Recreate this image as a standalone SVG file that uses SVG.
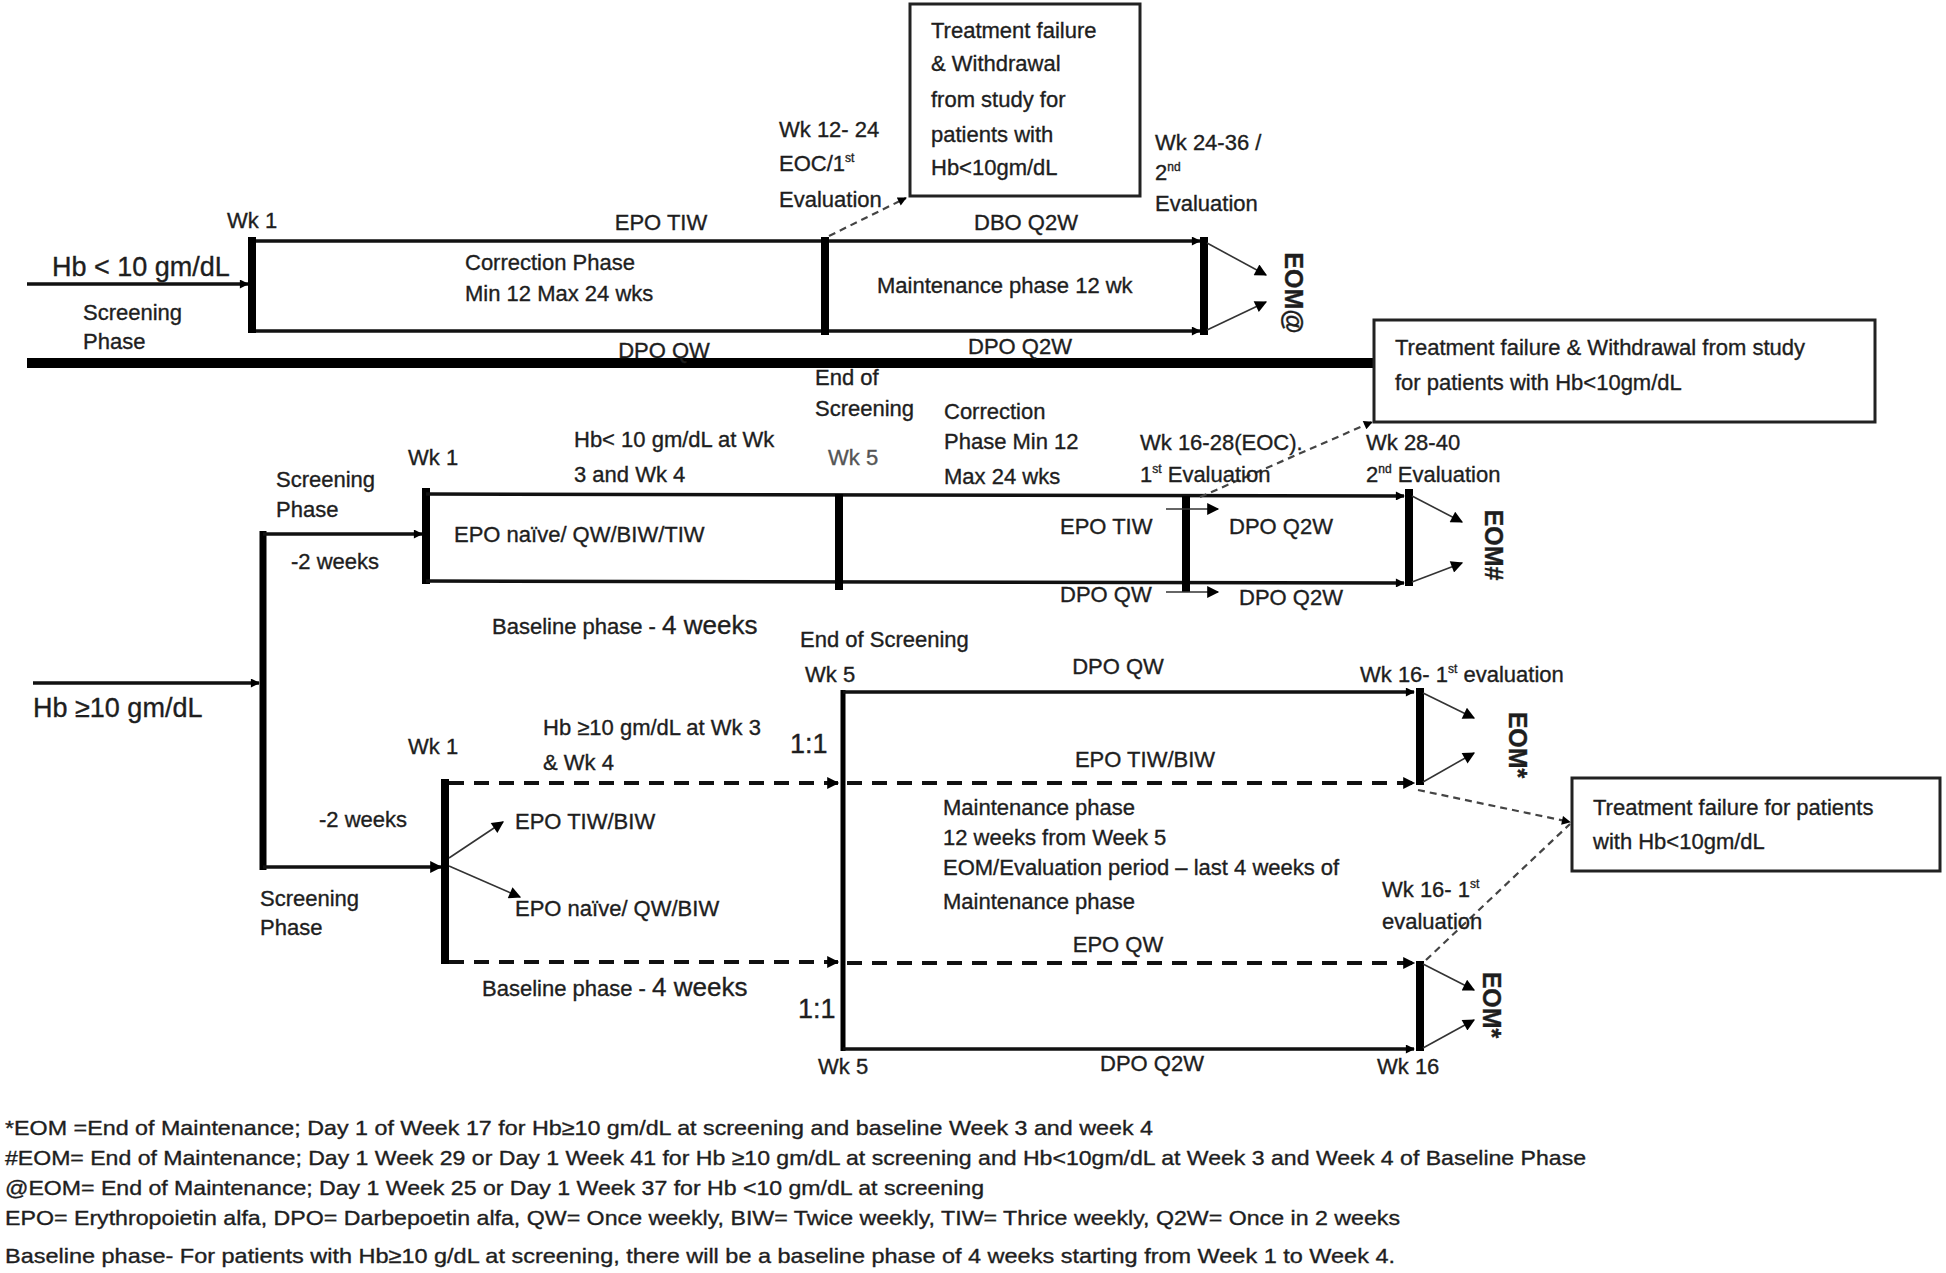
<svg xmlns="http://www.w3.org/2000/svg" width="1946" height="1273" viewBox="0 0 1946 1273">
<style>
.t{font-family:"Liberation Sans",Arial,sans-serif;font-size:22px;fill:#1e1e1e;stroke:#1e1e1e;stroke-width:0.35}
.f{font-size:21px}
.b{font-size:27px}
.m{text-anchor:middle}
.r{font-size:25px;font-weight:bold;text-anchor:middle;dominant-baseline:central}
.g{fill:#555;stroke:#555}
.ln{stroke:#111;stroke-width:3.5;fill:none}
.bar{stroke:#000;stroke-width:8;fill:none}
.dash{stroke:#111;stroke-width:4;stroke-dasharray:15 10;fill:none}
.dot{stroke:#444;stroke-width:2.2;stroke-dasharray:7 5;fill:none}
.thin{stroke:#333;stroke-width:1.6;fill:none}
.box{fill:#fff;stroke:#222;stroke-width:3}
</style>
<defs>
<marker id="ah" viewBox="0 0 10 10" refX="9" refY="5" markerWidth="15" markerHeight="12" markerUnits="userSpaceOnUse" orient="auto"><path d="M0,0 L10,5 L0,10 z" fill="#000"/></marker>
<marker id="as" viewBox="0 0 10 10" refX="9" refY="5" markerWidth="11" markerHeight="9" markerUnits="userSpaceOnUse" orient="auto"><path d="M0,0 L10,5 L0,10 z" fill="#000"/></marker>
</defs>
<rect width="1946" height="1273" fill="#fff"/>

<g id="connectors">
<line class="ln" x1="27" y1="284" x2="248" y2="284" marker-end="url(#as)"/>
<line class="ln" x1="252" y1="241" x2="1200" y2="241" marker-end="url(#as)"/>
<line class="ln" x1="252" y1="331" x2="1200" y2="331" marker-end="url(#as)"/>
<line class="bar" x1="252" y1="237" x2="252" y2="333"/>
<line class="bar" x1="825" y1="237" x2="825" y2="335"/>
<line class="bar" x1="1204" y1="237" x2="1204" y2="335"/>
<line class="thin" x1="1207" y1="243" x2="1266" y2="275" marker-end="url(#ah)"/>
<line class="thin" x1="1207" y1="330" x2="1266" y2="302" marker-end="url(#ah)"/>
<line class="dot" x1="829" y1="236" x2="906" y2="198" marker-end="url(#as)"/>
<line stroke="#000" stroke-width="10" x1="27" y1="363" x2="1374" y2="363"/>
<line class="ln" x1="33" y1="683" x2="259" y2="683" marker-end="url(#as)"/>
<line stroke="#000" stroke-width="7" x1="263" y1="531" x2="263" y2="870"/>
<line class="ln" x1="263" y1="534" x2="422" y2="534" marker-end="url(#as)"/>
<line class="bar" x1="426" y1="488" x2="426" y2="584"/>
<line class="ln" x1="426" y1="494" x2="1404" y2="496" marker-end="url(#as)"/>
<line class="ln" x1="426" y1="581" x2="1404" y2="583" marker-end="url(#as)"/>
<line class="bar" x1="839" y1="494" x2="839" y2="590"/>
<line class="bar" x1="1186" y1="496" x2="1186" y2="592"/>
<line class="bar" x1="1409" y1="489" x2="1409" y2="586"/>
<line class="thin" x1="1166" y1="509" x2="1218" y2="509" marker-end="url(#ah)"/>
<line class="thin" x1="1166" y1="592" x2="1218" y2="592" marker-end="url(#ah)"/>
<line class="thin" x1="1412" y1="496" x2="1462" y2="522" marker-end="url(#ah)"/>
<line class="thin" x1="1412" y1="582" x2="1462" y2="563" marker-end="url(#ah)"/>
<line class="dot" x1="1200" y1="497" x2="1372" y2="422" marker-end="url(#as)"/>
<line class="ln" x1="263" y1="867" x2="441" y2="867" marker-end="url(#ah)"/>
<line class="bar" x1="445" y1="779" x2="445" y2="964"/>
<line class="dash" x1="449" y1="783" x2="838" y2="783" marker-end="url(#ah)"/>
<line class="dash" x1="449" y1="962" x2="838" y2="962" marker-end="url(#ah)"/>
<line class="thin" x1="449" y1="858" x2="503" y2="822" marker-end="url(#ah)"/>
<line class="thin" x1="449" y1="866" x2="520" y2="897" marker-end="url(#ah)"/>
<line stroke="#000" stroke-width="5" x1="843" y1="690" x2="843" y2="1051"/>
<line class="ln" x1="843" y1="692" x2="1414" y2="692" marker-end="url(#as)"/>
<line class="dash" x1="847" y1="783" x2="1414" y2="783" marker-end="url(#ah)"/>
<line class="dash" x1="847" y1="963" x2="1414" y2="963" marker-end="url(#ah)"/>
<line class="ln" x1="843" y1="1049" x2="1414" y2="1049" marker-end="url(#as)"/>
<line class="bar" x1="1420" y1="688" x2="1420" y2="785"/>
<line class="bar" x1="1420" y1="961" x2="1420" y2="1051"/>
<line class="thin" x1="1423" y1="693" x2="1474" y2="718" marker-end="url(#ah)"/>
<line class="thin" x1="1423" y1="782" x2="1474" y2="753" marker-end="url(#ah)"/>
<line class="thin" x1="1423" y1="964" x2="1474" y2="990" marker-end="url(#ah)"/>
<line class="thin" x1="1423" y1="1048" x2="1474" y2="1020" marker-end="url(#ah)"/>
<line class="dot" x1="1418" y1="790" x2="1570" y2="822" marker-end="url(#as)"/>
<line class="dot" x1="1426" y1="960" x2="1570" y2="824"/>
</g>

<g id="box-withdraw-top">
<rect class="box" x="910" y="4" width="230" height="192"/>
<text class="t" x="931" y="38">Treatment failure</text>
<text class="t" x="931" y="71">&amp; Withdrawal</text>
<text class="t" x="931" y="107">from study for</text>
<text class="t" x="931" y="142">patients with</text>
<text class="t" x="931" y="175">Hb&lt;10gm/dL</text>
</g>
<g id="box-withdraw-mid">
<rect class="box" x="1374" y="320" width="501" height="102"/>
<text class="t" x="1395" y="355">Treatment failure &amp; Withdrawal from study</text>
<text class="t" x="1395" y="390">for patients with Hb&lt;10gm/dL</text>
</g>
<g id="box-failure-low">
<rect class="box" x="1572" y="778" width="368" height="93"/>
<text class="t" x="1593" y="815">Treatment failure for patients</text>
<text class="t" x="1593" y="849">with Hb&lt;10gm/dL</text>
</g>

<g id="top-labels">
<text class="t b" x="52" y="276">Hb &lt; 10 gm/dL</text>
<text class="t" x="83" y="320">Screening</text>
<text class="t" x="83" y="349">Phase</text>
<text class="t" x="227" y="228">Wk 1</text>
<text class="t m" x="661" y="230">EPO TIW</text>
<text class="t" x="465" y="270">Correction Phase</text>
<text class="t" x="465" y="301">Min 12 Max 24 wks</text>
<text class="t m" x="664" y="358">DPO QW</text>
<text class="t" x="779" y="137">Wk 12- 24</text>
<text class="t" x="779" y="171">EOC/1<tspan font-size="12" dy="-9">st</tspan></text>
<text class="t" x="779" y="207">Evaluation</text>
<text class="t m" x="1026" y="230">DBO Q2W</text>
<text class="t" x="877" y="293">Maintenance phase 12 wk</text>
<text class="t m" x="1020" y="354">DPO Q2W</text>
<text class="t" x="1155" y="150">Wk 24-36 /</text>
<text class="t" x="1155" y="180">2<tspan font-size="12" dy="-9">nd</tspan></text>
<text class="t" x="1155" y="211">Evaluation</text>
<text class="t r" transform="translate(1294,293) rotate(90)">EOM@</text>
</g>

<g id="mid-labels">
<text class="t b" x="33" y="717">Hb ≥10 gm/dL</text>
<text class="t" x="276" y="487">Screening</text>
<text class="t" x="276" y="517">Phase</text>
<text class="t" x="291" y="569">-2 weeks</text>
<text class="t" x="408" y="465">Wk 1</text>
<text class="t" x="574" y="447">Hb&lt; 10 gm/dL at Wk</text>
<text class="t" x="574" y="482">3 and Wk 4</text>
<text class="t" x="454" y="542">EPO naïve/ QW/BIW/TIW</text>
<text class="t" x="492" y="634">Baseline phase - <tspan font-size="26">4 weeks</tspan></text>
<text class="t" x="815" y="385">End of</text>
<text class="t" x="815" y="416">Screening</text>
<text class="t g" x="828" y="465">Wk 5</text>
<text class="t" x="944" y="419">Correction</text>
<text class="t" x="944" y="449">Phase Min 12</text>
<text class="t" x="944" y="484">Max 24 wks</text>
<text class="t" x="1140" y="450">Wk 16-28(EOC).</text>
<text class="t" x="1140" y="482">1<tspan font-size="12" dy="-9">st</tspan><tspan dy="9"> Evaluation</tspan></text>
<text class="t" x="1366" y="450">Wk 28-40</text>
<text class="t" x="1366" y="482">2<tspan font-size="12" dy="-9">nd</tspan><tspan dy="9"> Evaluation</tspan></text>
<text class="t" x="1060" y="534">EPO TIW</text>
<text class="t" x="1229" y="534">DPO Q2W</text>
<text class="t" x="1060" y="602">DPO QW</text>
<text class="t" x="1239" y="605">DPO Q2W</text>
<text class="t r" transform="translate(1494,545) rotate(90)">EOM#</text>
</g>

<g id="low-labels">
<text class="t" x="800" y="647">End of Screening</text>
<text class="t" x="805" y="682">Wk 5</text>
<text class="t m" x="1118" y="674">DPO QW</text>
<text class="t" x="1360" y="682">Wk 16- 1<tspan font-size="12" dy="-9">st</tspan><tspan dy="9"> evaluation</tspan></text>
<text class="t" x="408" y="754">Wk 1</text>
<text class="t" x="543" y="735">Hb ≥10 gm/dL at Wk 3</text>
<text class="t" x="543" y="770">&amp; Wk 4</text>
<text class="t b" x="790" y="753">1:1</text>
<text class="t m" x="1145" y="767">EPO TIW/BIW</text>
<text class="t" x="319" y="827">-2 weeks</text>
<text class="t" x="515" y="829">EPO TIW/BIW</text>
<text class="t" x="515" y="916">EPO naïve/ QW/BIW</text>
<text class="t" x="260" y="906">Screening</text>
<text class="t" x="260" y="935">Phase</text>
<text class="t" x="482" y="996">Baseline phase - <tspan font-size="26">4 weeks</tspan></text>
<text class="t" x="943" y="815">Maintenance phase</text>
<text class="t" x="943" y="845">12 weeks from Week 5</text>
<text class="t" x="943" y="875">EOM/Evaluation period – last 4 weeks of</text>
<text class="t" x="943" y="909">Maintenance phase</text>
<text class="t m" x="1118" y="952">EPO QW</text>
<text class="t" x="1382" y="897">Wk 16- 1<tspan font-size="12" dy="-9">st</tspan></text>
<text class="t" x="1382" y="929">evaluation</text>
<text class="t b" x="798" y="1018">1:1</text>
<text class="t" x="818" y="1074">Wk 5</text>
<text class="t m" x="1152" y="1071">DPO Q2W</text>
<text class="t" x="1377" y="1074">Wk 16</text>
<text class="t r" transform="translate(1518,745) rotate(90)">EOM*</text>
<text class="t r" transform="translate(1492,1005) rotate(90)">EOM*</text>
</g>

<g id="footnotes">
<text class="t f" x="5" y="1135" textLength="1148" lengthAdjust="spacingAndGlyphs">*EOM =End of Maintenance; Day 1 of Week 17 for Hb≥10 gm/dL at screening and baseline Week 3 and week 4</text>
<text class="t f" x="5" y="1165" textLength="1581" lengthAdjust="spacingAndGlyphs">#EOM= End of Maintenance; Day 1 Week 29 or Day 1 Week 41 for Hb ≥10 gm/dL at screening and Hb&lt;10gm/dL at Week 3 and Week 4 of Baseline Phase</text>
<text class="t f" x="5" y="1195" textLength="979" lengthAdjust="spacingAndGlyphs">@EOM= End of Maintenance; Day 1 Week 25 or Day 1 Week 37 for Hb &lt;10 gm/dL at screening</text>
<text class="t f" x="5" y="1225" textLength="1395" lengthAdjust="spacingAndGlyphs">EPO= Erythropoietin alfa, DPO= Darbepoetin alfa, QW= Once weekly, BIW= Twice weekly, TIW= Thrice weekly, Q2W= Once in 2 weeks</text>
<text class="t f" x="5" y="1263" textLength="1390" lengthAdjust="spacingAndGlyphs">Baseline phase- For patients with Hb≥10 g/dL at screening, there will be a baseline phase of 4 weeks starting from Week 1 to Week 4.</text>
</g>
</svg>
